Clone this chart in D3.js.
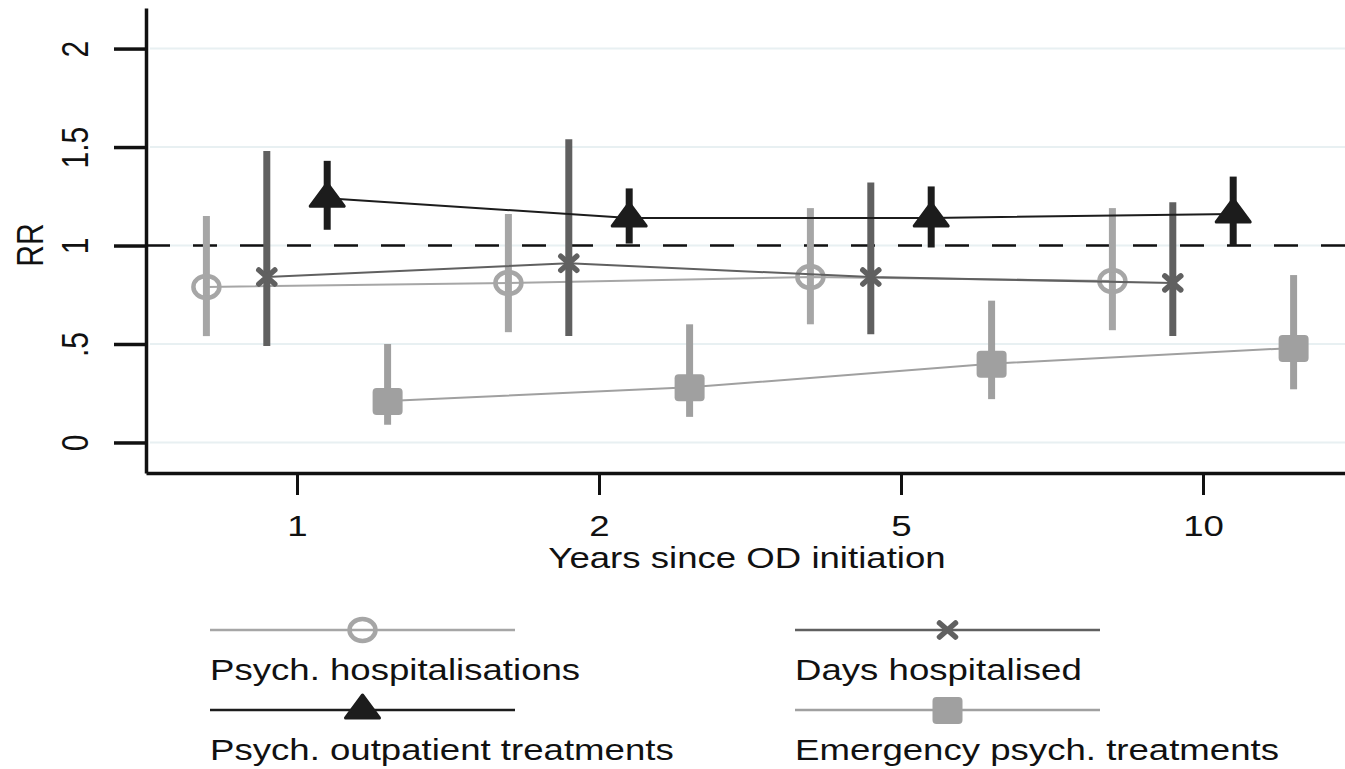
<!DOCTYPE html>
<meta charset="utf-8">
<script src="https://d3js.org/d3.v7.min.js"></script>
<style>
  body { margin: 0; background: #fff; }
  text { font-family: "Liberation Sans", Arial, sans-serif; fill: #111; }
</style>
<div id="chart"></div>
<script>
  // data
  var years = ["1", "2", "5", "10"];
  var yTicks = [0, 0.5, 1, 1.5, 2];
  var yTickLabels = ["0", ".5", "1", "1.5", "2"];

  var hospRR = [0.79, 0.81, 0.84, 0.82];
  var hospLo = [0.54, 0.56, 0.60, 0.57];
  var hospHi = [1.15, 1.16, 1.19, 1.19];

  var daysRR = [0.84, 0.91, 0.84, 0.81];
  var daysLo = [0.49, 0.54, 0.55, 0.54];
  var daysHi = [1.48, 1.54, 1.32, 1.22];

  var outpRR = [1.24, 1.14, 1.14, 1.16];
  var outpLo = [1.08, 1.01, 0.99, 1.00];
  var outpHi = [1.43, 1.29, 1.30, 1.35];

  var emerRR = [0.21, 0.28, 0.40, 0.48];
  var emerLo = [0.09, 0.13, 0.22, 0.27];
  var emerHi = [0.50, 0.60, 0.72, 0.85];

  var seriesNames = ["Psych. hospitalisations", "Days hospitalised",
                     "Psych. outpatient treatments", "Emergency psych. treatments"];

  var W = 1345, H = 769;
  var stretch = 1.22;   // the original picture is a bit wider than tall

  var svg = d3.select("#chart").append("svg")
      .attr("width", W).attr("height", H);

  var x = d3.scaleLinear().domain([-0.5, 3.5]).range([146, 1354]);
  var y = d3.scaleLinear().domain([-0.155, 2.206]).range([473, 8]);

  // series styling
  var series = [
    {name: seriesNames[0], rr: hospRR, lo: hospLo, hi: hospHi, off: -0.3, color: "#a6a6a6", shape: "circle"},
    {name: seriesNames[1], rr: daysRR, lo: daysLo, hi: daysHi, off: -0.1, color: "#606060", shape: "x"},
    {name: seriesNames[2], rr: outpRR, lo: outpLo, hi: outpHi, off: 0.1, color: "#1c1c1c", shape: "triangle"},
    {name: seriesNames[3], rr: emerRR, lo: emerLo, hi: emerHi, off: 0.3, color: "#a0a0a0", shape: "square"}
  ];

  function drawMarker(g, shape, color) {
    if (shape === "circle") {
      g.append("ellipse").attr("rx", 13).attr("ry", 11)
        .attr("fill", "none").attr("stroke", color).attr("stroke-width", 4.5);
    } else if (shape === "x") {
      g.append("path").attr("d", "M-8,-7L8,7M-8,7L8,-7")
        .attr("stroke", color).attr("stroke-width", 5.5).attr("stroke-linecap", "round");
    } else if (shape === "triangle") {
      g.append("path").attr("d", "M0,-15L17,8L-17,8Z")
        .attr("fill", color).attr("stroke", color).attr("stroke-width", 3)
        .attr("stroke-linejoin", "round");
    } else {
      g.append("rect").attr("x", -15).attr("y", -13).attr("width", 30).attr("height", 27)
        .attr("rx", 4).attr("fill", color);
    }
  }

  // gridlines
  svg.append("g").selectAll("line").data(yTicks).join("line")
    .attr("x1", 150).attr("x2", W)
    .attr("y1", d => y(d)).attr("y2", d => y(d))
    .attr("stroke", "#e8f0f2").attr("stroke-width", 2);

  // reference line at RR = 1
  svg.append("line")
    .attr("x1", 146).attr("x2", W)
    .attr("y1", y(1)).attr("y2", y(1))
    .attr("stroke", "#111").attr("stroke-width", 2.5)
    .attr("stroke-dasharray", "24,23");

  // series: CI bars, connecting line, markers
  series.forEach(function(s) {
    var g = svg.append("g");
    var idx = d3.range(years.length);

    g.selectAll(".ci").data(idx).join("line")
      .attr("class", "ci")
      .attr("x1", i => x(i + s.off)).attr("x2", i => x(i + s.off))
      .attr("y1", i => y(s.lo[i])).attr("y2", i => y(s.hi[i]))
      .attr("stroke", s.color).attr("stroke-width", 7);

    g.append("path")
      .datum(idx)
      .attr("d", d3.line().x(i => x(i + s.off)).y(i => y(s.rr[i])))
      .attr("fill", "none").attr("stroke", s.color).attr("stroke-width", 2);

    g.selectAll(".mk").data(idx).join("g")
      .attr("class", "mk")
      .attr("transform", i => "translate(" + x(i + s.off) + "," + y(s.rr[i]) + ")")
      .each(function() { drawMarker(d3.select(this), s.shape, s.color); });
  });

  // Y axis
  var yAxis = svg.append("g")
    .attr("transform", "translate(146,0)")
    .call(d3.axisLeft(y).tickValues(yTicks)
      .tickFormat((d, i) => yTickLabels[i]).tickSize(32).tickSizeOuter(0));
  yAxis.select(".domain").attr("stroke", "#111").attr("stroke-width", 3.5);
  yAxis.selectAll(".tick line").attr("stroke", "#111").attr("stroke-width", 3.5);
  yAxis.selectAll(".tick text")
    .attr("x", null).attr("dy", null)
    .attr("text-anchor", "middle")
    .attr("font-size", 30).attr("fill", "#111")
    .attr("transform", "translate(-58,0) scale(" + stretch + ",1) rotate(-90)");

  // X axis
  var xAxis = svg.append("g")
    .attr("transform", "translate(0,473)")
    .call(d3.axisBottom(x).tickValues(d3.range(years.length))
      .tickFormat(i => years[i]).tickSize(22).tickSizeOuter(0));
  xAxis.select(".domain").attr("stroke", "#111").attr("stroke-width", 3.5);
  xAxis.selectAll(".tick line").attr("stroke", "#111").attr("stroke-width", 3);
  xAxis.selectAll(".tick text")
    .attr("y", null).attr("dy", null)
    .attr("font-size", 30).attr("fill", "#111")
    .attr("transform", "translate(0,63) scale(" + stretch + ",1)");

  // axis titles
  svg.append("text")
    .attr("transform", "translate(747,568) scale(" + stretch + ",1)")
    .attr("text-anchor", "middle").attr("font-size", 30)
    .text("Years since OD initiation");

  svg.append("text")
    .attr("transform", "translate(43,245) scale(" + stretch + ",1) rotate(-90)")
    .attr("text-anchor", "middle").attr("font-size", 30)
    .text("RR");

  // legend (2 x 2)
  var legX = [210, 795], legLineY = [630, 710], legTextY = [680, 760], legLen = 305;
  series.forEach(function(s, k) {
    var col = k % 2, row = Math.floor(k / 2);
    var lg = svg.append("g").attr("transform", "translate(" + legX[col] + "," + legLineY[row] + ")");
    lg.append("line").attr("x1", 0).attr("x2", legLen)
      .attr("stroke", s.color).attr("stroke-width", 2.5);
    drawMarker(lg.append("g").attr("transform", "translate(" + (legLen / 2) + ",0)"), s.shape, s.color);
    svg.append("text")
      .attr("transform", "translate(" + legX[col] + "," + legTextY[row] + ") scale(" + stretch + ",1)")
      .attr("font-size", 30)
      .text(s.name);
  });
</script>
